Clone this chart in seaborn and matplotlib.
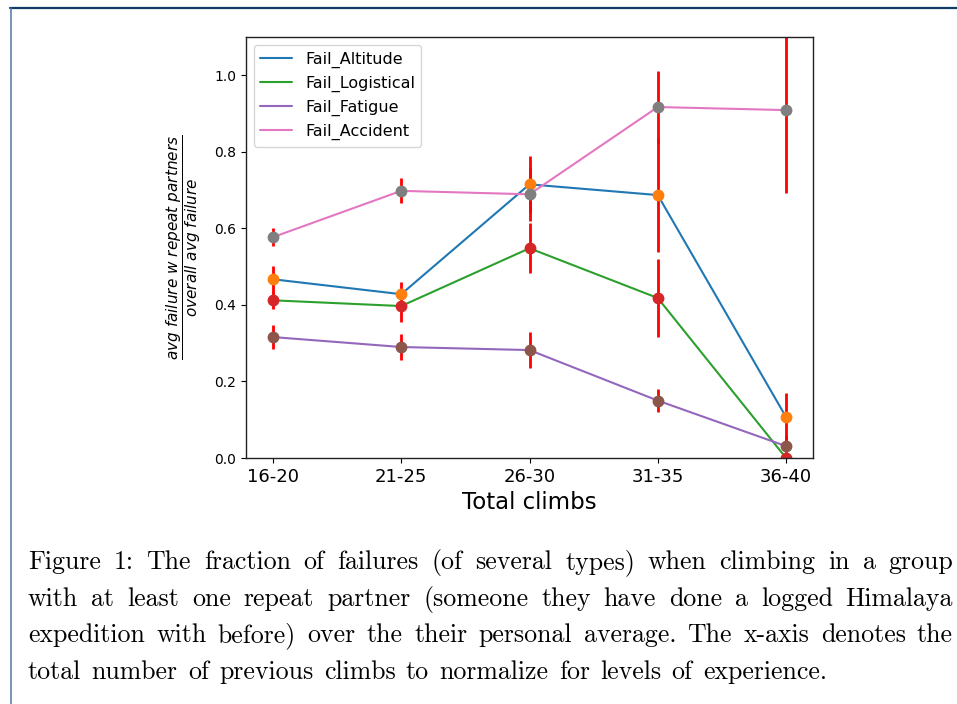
import numpy as np
import matplotlib
matplotlib.use("Agg")
import matplotlib.pyplot as plt
from matplotlib.lines import Line2D
import seaborn as sns

# ---------------- data ----------------
categories = ["16-20", "21-25", "26-30", "31-35", "36-40"]

series_names = ["Fail_Altitude", "Fail_Logistical", "Fail_Fatigue", "Fail_Accident"]

altitude_vals   = [0.467, 0.428, 0.715, 0.687, 0.107]
altitude_err    = [0.035, 0.032, 0.075, 0.150, 0.063]

logistical_vals = [0.412, 0.397, 0.548, 0.418, 0.000]
logistical_err  = [0.023, 0.042, 0.065, 0.103, 0.000]

fatigue_vals    = [0.316, 0.290, 0.282, 0.150, 0.031]
fatigue_err     = [0.031, 0.035, 0.046, 0.030, 0.030]

accident_vals   = [0.577, 0.698, 0.689, 0.917, 0.909]
accident_err    = [0.023, 0.033, 0.070, 0.094, 0.217]

caption_lines = [
    "Figure 1: The fraction of failures (of several types) when climbing in a group",
    "with at least one repeat partner (someone they have done a logged Himalaya",
    "expedition with before) over the their personal average. The x-axis denotes the",
    "total number of previous climbs to normalize for levels of experience.",
]

# ---------------- style ----------------
sns.set_style("white")
plt.rcParams["font.family"] = ["DejaVu Sans"]
plt.rcParams["axes.edgecolor"] = "black"
plt.rcParams["text.color"] = "black"
plt.rcParams["axes.labelcolor"] = "black"
plt.rcParams["xtick.color"] = "black"
plt.rcParams["ytick.color"] = "black"

tab = sns.color_palette("tab10")
line_colors = [tab[0], tab[2], tab[4], tab[6]]
marker_colors = [tab[1], tab[3], tab[5], tab[7]]

W, H = 957, 704
fig = plt.figure(figsize=(W / 100, H / 100), dpi=100)
ax = fig.add_axes([246 / W, 1 - 458 / H, (813 - 246) / W, (458 - 37) / H])

all_vals = [altitude_vals, logistical_vals, fatigue_vals, accident_vals]
all_errs = [altitude_err, logistical_err, fatigue_err, accident_err]

for name, vals, errs, lc, mc in zip(series_names, all_vals, all_errs,
                                    line_colors, marker_colors):
    sns.lineplot(x=categories, y=vals, color=lc, label=name, ax=ax,
                 linewidth=1.5, sort=False)
    ax.errorbar(categories, vals, yerr=errs, fmt="o", color=mc,
                ecolor="red", elinewidth=2, markersize=7.5, capsize=0)

ax.set_ylim(0, 1.1)
ax.set_xlim(-0.21, 4.21)
ax.set_yticks([0.0, 0.2, 0.4, 0.6, 0.8, 1.0])
ax.tick_params(axis="y", labelsize=10, direction="out", length=3.5, width=0.8,
               left=True)
ax.tick_params(axis="x", labelsize=13, direction="out", length=3.5, width=0.8,
               bottom=True)
for s in ax.spines.values():
    s.set_linewidth(1.0)
    s.set_color("#222222")

ax.set_xlabel("Total climbs", fontsize=16.5, labelpad=4)
ax.set_ylabel(r"$\dfrac{avg\ failure\ w\ repeat\ partners}{overall\ avg\ failure}$",
              fontsize=11)
ax.yaxis.set_label_coords(-0.075, 0.5)

handles, labels = ax.get_legend_handles_labels()
ax.legend(handles[:4], labels[:4], loc="upper left", fontsize=11.5,
          frameon=True, framealpha=0.8, edgecolor="#cccccc")

# ---------------- page border ----------------
fig.add_artist(Line2D([10 / W, 1.0], [1 - 8 / H, 1 - 8 / H],
                      transform=fig.transFigure, color="#0f3b68", lw=1.6))
fig.add_artist(Line2D([10.8 / W, 10.8 / W], [0.0, 1 - 8 / H],
                      transform=fig.transFigure, color="#4f75a8", lw=1.1))

# ---------------- caption (justified) ----------------
fig.canvas.draw()
renderer = fig.canvas.get_renderer()
cap_font = dict(family="cmr10", fontsize=18.6, color="black")
x_left, x_right = 28, 953
baselines = [569, 606, 642, 679]
space_w = None
for i, (line, yb) in enumerate(zip(caption_lines, baselines)):
    words = line.split(" ")
    widths = []
    for w in words:
        t = fig.text(0, 0, w, **cap_font)
        bb = t.get_window_extent(renderer)
        widths.append(bb.width)
        t.remove()
    if space_w is None:
        t = fig.text(0, 0, "a a", **cap_font)
        w2 = t.get_window_extent(renderer).width
        t.remove()
        t = fig.text(0, 0, "aa", **cap_font)
        w1 = t.get_window_extent(renderer).width
        t.remove()
        space_w = w2 - w1
    total = sum(widths)
    if i < len(caption_lines) - 1:
        gap = (x_right - x_left - total) / (len(words) - 1)
    else:
        gap = space_w * 1.2
    x = x_left
    for w, wd in zip(words, widths):
        fig.text(x / W, 1 - yb / H, w, ha="left", va="baseline", **cap_font)
        x += wd + gap

fig.savefig("out.png", dpi=100)
